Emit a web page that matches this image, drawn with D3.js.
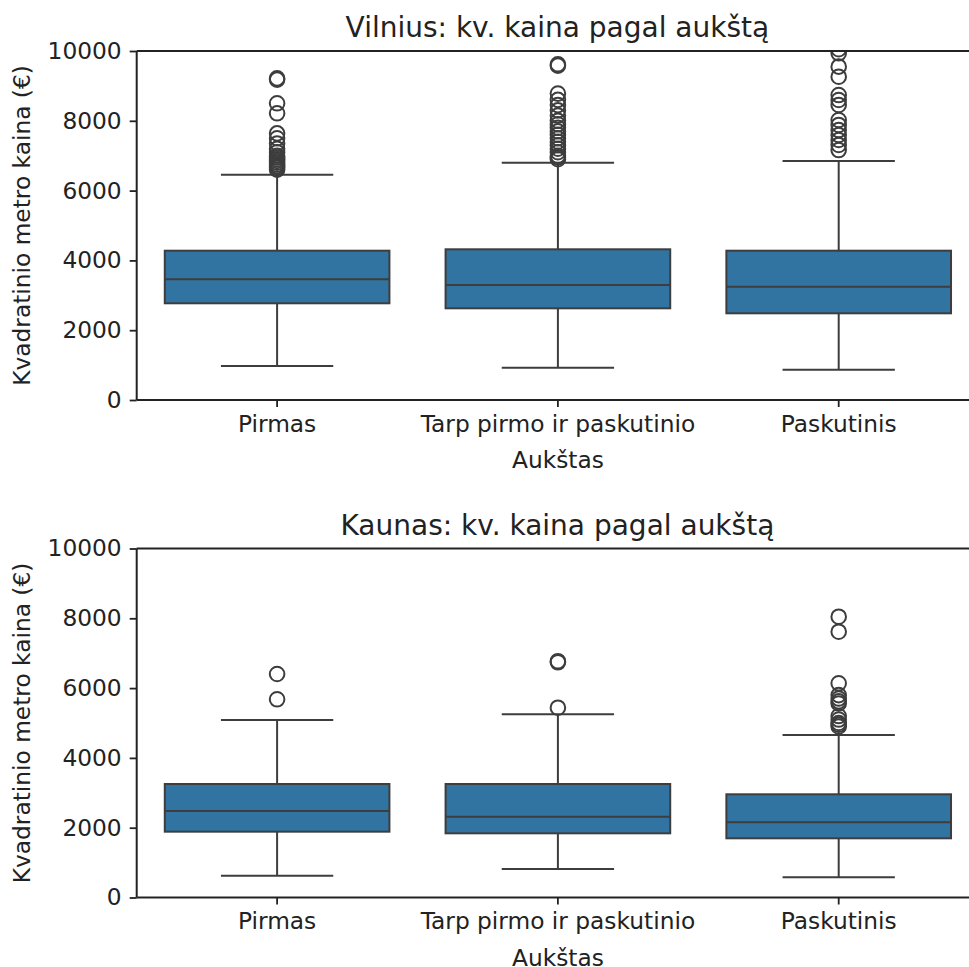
<html>
<script src="https://d3js.org/d3.v7.min.js"></script>
<body style="margin:0;background:white">
<script>
var width = 969
var height = 967

var floors = ['Pirmas', 'Tarp pirmo ir paskutinio', 'Paskutinis']
var yTicks = [0, 2000, 4000, 6000, 8000, 10000]

// Vilnius
var vilniusLow = [974, 926, 868]
var vilniusQ1 = [2771, 2627, 2484]
var vilniusMedian = [3458, 3295, 3247]
var vilniusQ3 = [4278, 4318, 4278]
var vilniusHigh = [6456, 6800, 6848]
var vilniusOutliers = [
    [9217, 9180, 8501, 8215, 7640, 7500, 7350, 7200, 7100, 7000, 6950, 6900, 6850, 6800, 6750, 6700, 6650, 6600],
    [9620, 9580, 8780, 8600, 8450, 8300, 8150, 8000, 7900, 7800, 7700, 7600, 7500, 7400, 7300, 7200, 7100, 7000, 6950, 6900],
    [10050, 9934, 9551, 9264, 8739, 8596, 8453, 8023, 7880, 7736, 7593, 7450, 7307, 7163]
]

// Kaunas
var kaunasLow = [625, 817, 579]
var kaunasQ1 = [1886, 1839, 1696]
var kaunasMedian = [2479, 2315, 2155]
var kaunasQ3 = [3252, 3252, 2957]
var kaunasHigh = [5086, 5249, 4656]
var kaunasOutliers = [
    [6404, 5679],
    [6770, 6740, 5438],
    [8046, 7616, 6137, 5800, 5700, 5620, 5560, 5200, 5100, 5000, 4950, 4900]
]

var panels = [
    {title: 'Vilnius: kv. kaina pagal aukštą', top: 51, low: vilniusLow, q1: vilniusQ1, med: vilniusMedian, q3: vilniusQ3, high: vilniusHigh, out: vilniusOutliers},
    {title: 'Kaunas: kv. kaina pagal aukštą', top: 548.5, low: kaunasLow, q1: kaunasQ1, med: kaunasMedian, q3: kaunasQ3, high: kaunasHigh, out: kaunasOutliers}
]

var left = 136.7
var plotW = 842.4
var plotH = 349
var font = '"DejaVu Sans", sans-serif'
var ink = '#222'
var line = '#3d3d3d'
var blue = '#3274a1'

var svg = d3.select('body').append('svg').attr('width', width).attr('height', height)
svg.append('rect').attr('width', width).attr('height', height).attr('fill', 'white')

var x = d3.scaleBand().domain(floors).range([0, plotW]).paddingInner(0).paddingOuter(0)

panels.forEach(function(p, k){
    var y = d3.scaleLinear().domain([0, 10000]).range([plotH, 0])
    var g = svg.append('g').attr('transform', `translate(${left}, ${p.top})`)

    g.append('clipPath').attr('id', 'clip' + k).append('rect')
        .attr('width', plotW).attr('height', plotH)

    var boxes = g.append('g').attr('clip-path', `url(#clip${k})`)
    var bw = x.bandwidth() * 0.8
    var cw = x.bandwidth() * 0.4

    floors.forEach(function(f, i){
        var cx = x(f) + x.bandwidth() / 2
        boxes.append('line').attr('x1', cx).attr('x2', cx).attr('y1', y(p.q3[i])).attr('y2', y(p.high[i]))
            .attr('stroke', line).attr('stroke-width', 2)
        boxes.append('line').attr('x1', cx).attr('x2', cx).attr('y1', y(p.q1[i])).attr('y2', y(p.low[i]))
            .attr('stroke', line).attr('stroke-width', 2)
        boxes.append('line').attr('x1', cx - cw / 2).attr('x2', cx + cw / 2).attr('y1', y(p.high[i])).attr('y2', y(p.high[i]))
            .attr('stroke', line).attr('stroke-width', 2)
        boxes.append('line').attr('x1', cx - cw / 2).attr('x2', cx + cw / 2).attr('y1', y(p.low[i])).attr('y2', y(p.low[i]))
            .attr('stroke', line).attr('stroke-width', 2)
        boxes.append('rect').attr('x', cx - bw / 2).attr('width', bw)
            .attr('y', y(p.q3[i])).attr('height', y(p.q1[i]) - y(p.q3[i]))
            .attr('fill', blue).attr('stroke', line).attr('stroke-width', 2)
        boxes.append('line').attr('x1', cx - bw / 2).attr('x2', cx + bw / 2).attr('y1', y(p.med[i])).attr('y2', y(p.med[i]))
            .attr('stroke', line).attr('stroke-width', 2)
        boxes.selectAll(null).data(p.out[i]).enter().append('circle')
            .attr('cx', cx).attr('cy', function(d){return y(d)}).attr('r', 7.3)
            .attr('fill', 'none').attr('stroke', line).attr('stroke-width', 2)
    })

    var yAxis = g.append('g').call(d3.axisLeft(y).tickValues(yTicks).tickSize(7).tickPadding(8).tickFormat(d3.format('d')))
    var xAxis = g.append('g').attr('transform', `translate(0, ${plotH})`)
        .call(d3.axisBottom(x).tickSize(7).tickPadding(8))
    ;[yAxis, xAxis].forEach(function(a){
        a.select('.domain').attr('stroke', ink).attr('stroke-width', 2)
        a.selectAll('.tick line').attr('stroke', ink).attr('stroke-width', 1.8)
        a.selectAll('.tick text').attr('fill', ink).style('font-family', font).style('font-size', '23.3px')
    })
    yAxis.select('.domain').attr('d', `M0,0V${plotH}`)
    xAxis.select('.domain').attr('d', `M0,0H${plotW}`)

    g.append('line').attr('x1', 0).attr('x2', plotW).attr('y1', 0).attr('y2', 0)
        .attr('stroke', ink).attr('stroke-width', 2)
    g.append('line').attr('x1', plotW).attr('x2', plotW).attr('y1', 0).attr('y2', plotH)
        .attr('stroke', ink).attr('stroke-width', 2)

    g.append('text').attr('x', plotW / 2 - 136.7 + left - 0.5).attr('y', -14).attr('text-anchor', 'middle')
        .attr('fill', ink).style('font-family', font).style('font-size', '28px').text(p.title)
    g.append('text').attr('x', plotW / 2).attr('y', plotH + 68).attr('text-anchor', 'middle')
        .attr('fill', ink).style('font-family', font).style('font-size', '23.3px').text('Aukštas')
    g.append('text').attr('transform', `translate(${30 - left}, ${plotH / 2}) rotate(-90)`).attr('text-anchor', 'middle')
        .attr('fill', ink).style('font-family', font).style('font-size', '23.3px').text('Kvadratinio metro kaina (€)')
})
</script>
</body>
</html>
